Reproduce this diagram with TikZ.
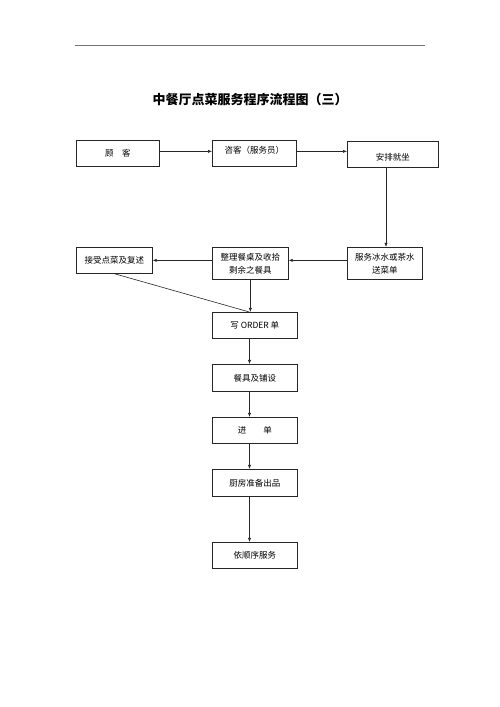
\documentclass[tikz,border=0pt]{standalone}
\usepackage{fontspec}
\setmainfont{Noto Sans CJK SC}
\usetikzlibrary{arrows.meta,calc}
\begin{document}
\begin{tikzpicture}[x=1pt,y=1pt,
  box/.style={draw=black!85, line width=0.7pt, anchor=north west, inner sep=0pt,
    font=\fontsize{8.5}{13}\selectfont, align=center},
  lbl/.style={font=\fontsize{8.5}{13}\selectfont, inner sep=0pt},
  arr/.style={draw=black!85, line width=0.6pt, -{Latex[length=4pt,width=3.2pt]}},
  ln/.style={draw=black!85, line width=0.6pt}]
\useasboundingbox (0,0) rectangle (500,707);
\fill[white] (0,0) rectangle (500,707);
% top rule
\coordinate (r1) at (75,662);
\coordinate (r2) at (425,662);
\draw[black!55, line width=0.8pt] (r1) -- (r2);
% title
\node[font=\fontsize{13}{15}\selectfont\bfseries, inner sep=0pt] (title) at (250,607) {中餐厅点菜服务程序流程图（三）};
% row 1
\node[box, minimum width=83, minimum height=26] (b1) at (76,567) {顾\quad 客};
\node[box, minimum width=84, minimum height=26] (b2) at (212,567) {};
\node[lbl] (b2t) at ($(b2.center)+(0,3)$) {咨客（服务员）};
\node[box, minimum width=91, minimum height=26] (b3) at (347,566) {};
\node[lbl] (b3t) at ($(b3.center)+(0,-3)$) {安排就坐};
% row 2
\node[box, minimum width=76, minimum height=26] (c1) at (76,460) {接受点菜及复述};
\node[box, minimum width=76, minimum height=32] (c2) at (212,460) {整理餐桌及收拾\\剩余之餐具};
\node[box, minimum width=75, minimum height=32] (c3) at (347,460) {服务冰水或茶水\\送菜单};
% column
\node[box, minimum width=85, minimum height=26] (d1) at (212,395) {写 ORDER 单};
\node[box, minimum width=85, minimum height=27] (d2) at (212,343) {餐具及铺设};
\node[box, minimum width=85, minimum height=26] (d3) at (212,290) {进\qquad 单};
\node[box, minimum width=85, minimum height=27] (d4) at (212,238) {厨房准备出品};
\node[box, minimum width=85, minimum height=26] (d5) at (212,165) {依顺序服务};
% connectors
\draw[arr] ([yshift=2pt]b1.east) -- ([yshift=2pt]b1.east -| b2.west);
\draw[arr] ([yshift=2pt]b2.east) -- ([yshift=2pt]b2.east -| b3.west);
\coordinate (vx) at (386,0);
\draw[arr] (b3.south -| vx) -- (c3.north -| vx);
\draw[arr] ([yshift=3pt]c3.west) -- ([yshift=3pt]c3.west -| c2.east);
\draw[arr] (c2.west |- c1.east) -- (c1.east);
\coordinate (t) at (c2.south |- d1.north);
\draw[arr] (c2.south) -- (t);
\draw[ln] (c1.south) -- ([xshift=-1pt]t);
\coordinate (ax) at (249.5,0);
\draw[arr] (d1.south -| ax) -- (d2.north -| ax);
\draw[arr] (d2.south -| ax) -- (d3.north -| ax);
\draw[arr] (d3.south -| ax) -- (d4.north -| ax);
\draw[arr] (d4.south -| ax) -- (d5.north -| ax);
\end{tikzpicture}
\end{document}
